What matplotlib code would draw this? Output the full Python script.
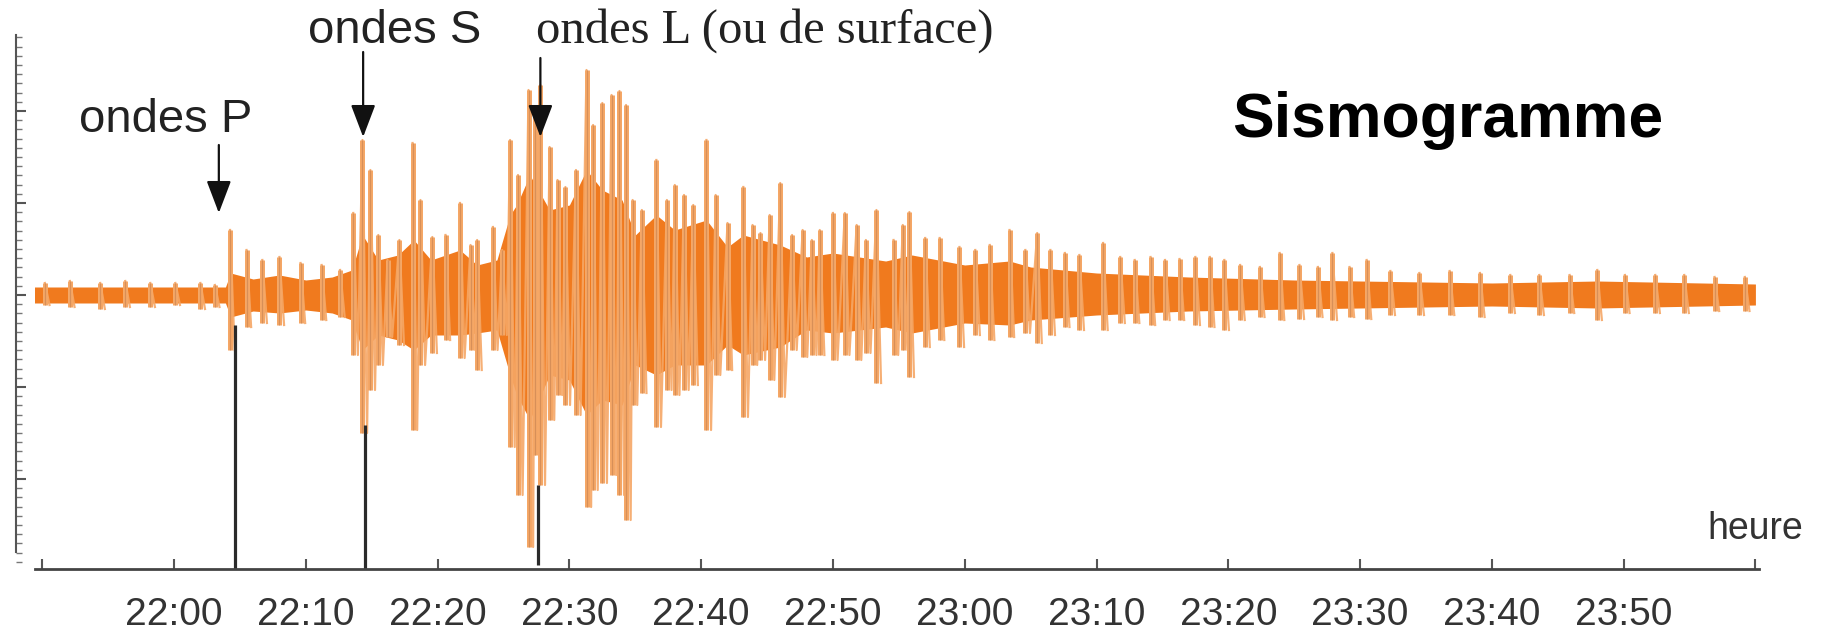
import matplotlib.pyplot as plt
from matplotlib.ticker import MultipleLocator

# temps en minutes apres 22:00
heures = ['22:00', '22:10', '22:20', '22:30', '22:40', '22:50',
          '23:00', '23:10', '23:20', '23:30', '23:40', '23:50']
minutes_heures = [0, 10, 20, 30, 40, 50, 60, 70, 80, 90, 100, 110]

# arrivees des ondes (minutes apres 22:00)
t_ondes_p = 4.6
t_ondes_s = 14.5
t_ondes_l = 27.6

# enveloppe du coeur du signal (amplitude en unites arbitraires)
coeur_t = [-10.6, 3.9, 4.3, 6.0, 8.0, 10.0, 12.0, 13.5, 14.3, 15.5, 17.0, 18.2,
           19.5, 21.7, 23.0, 24.5, 25.5, 26.0, 27.0, 28.5, 30.0, 31.3, 32.5, 34.0,
           35.0, 36.6, 38.0, 40.4, 42.0, 43.2, 46.0, 48.0, 50.0, 54.0, 56.0, 60.0,
           63.4, 65.0, 70.0, 77.0, 85.0, 100.0, 108.0, 120.0]
coeur_haut = [8, 8, 22, 16, 20, 15, 18, 25, 60, 35, 40, 55,
              35, 45, 30, 35, 80, 90, 120, 85, 90, 125, 105, 95,
              60, 80, 65, 75, 48, 60, 50, 38, 42, 34, 40, 30,
              34, 28, 22, 18, 15, 12, 14, 11]
coeur_bas = [8, 8, 22, 16, 18, 15, 18, 25, 55, 40, 45, 55,
             40, 40, 38, 35, 80, 100, 125, 80, 85, 120, 105, 110,
             70, 80, 70, 70, 50, 60, 52, 35, 38, 32, 38, 28,
             30, 25, 20, 16, 14, 11, 13, 10]

# pics du sismogramme
pic_t = [-9.8, -7.9, -5.6, -3.7, -1.8, 0.1, 2.0, 3.1,
         4.25, 5.5, 6.7, 8.0, 9.6, 11.2, 12.6,
         13.6, 14.3, 14.9, 15.5, 16.2, 17.1, 18.1, 18.7, 19.6, 20.6, 21.7, 22.5,
         23.0, 24.2, 24.9,
         25.5, 26.1, 26.9, 27.4, 27.8, 28.5, 29.1, 29.7, 30.5, 31.3, 31.8, 32.5,
         33.2, 33.8, 34.3, 34.8, 35.5, 36.6, 37.4, 38.0, 38.7, 39.4, 40.4, 41.1,
         42.0, 43.2, 43.9, 44.5, 45.2, 46.0, 46.9, 47.7, 48.4, 49.0, 50.0, 50.9,
         51.8, 52.5, 53.3, 54.6,
         55.3, 55.8, 57.0, 58.1, 59.6, 60.8, 61.9, 63.4, 64.6, 65.5, 66.5, 67.6,
         68.7, 70.5, 71.8, 72.9, 74.1, 75.2, 76.3, 77.5, 78.6, 79.7, 80.9, 82.4,
         83.9, 85.4, 86.8, 87.9, 89.2, 90.5, 92.3, 94.5, 96.8, 99.1, 101.4, 103.6,
         105.9, 108.0, 110.1, 112.4, 114.6, 116.9, 119.2]
pic_haut = [12, 14, 12, 14, 12, 12, 12, 10,
            65, 45, 35, 38, 32, 30, 25,
            82, 155, 125, 60, 35, 55, 152, 95, 58, 60, 92, 50,
            55, 68, 45,
            155, 120, 205, 185, 210, 148, 115, 108, 125, 225, 170, 192,
            200, 204, 190, 95, 85, 135, 95, 110, 100, 90, 155, 100,
            72, 108, 70, 62, 80, 112, 60, 65, 55, 65, 82, 82,
            70, 55, 85, 55,
            70, 83, 57, 57, 48, 45, 50, 65, 45, 62, 45, 42,
            40, 52, 38, 35, 38, 35, 36, 38, 38, 35, 30, 28,
            42, 30, 28, 42, 28, 35, 24, 22, 24, 22, 20, 20,
            20, 25, 20, 20, 20, 18, 18]
pic_bas = [10, 12, 14, 12, 12, 10, 14, 12,
           55, 32, 28, 30, 28, 25, 22,
           60, 138, 95, 70, 42, 50, 135, 70, 58, 45, 63, 55,
           75, 55, 40,
           152, 200, 252, 160, 190, 125, 100, 110, 120, 212, 195, 188,
           180, 200, 225, 110, 98, 132, 95, 100, 95, 90, 135, 80,
           75, 122, 70, 65, 85, 102, 55, 62, 60, 60, 65, 60,
           65, 58, 88, 60,
           55, 82, 52, 45, 52, 40, 45, 42, 38, 48, 40, 32,
           35, 35, 28, 28, 30, 25, 25, 30, 32, 35, 25, 22,
           25, 24, 22, 25, 22, 24, 20, 20, 20, 22, 18, 20,
           18, 25, 18, 18, 18, 16, 16]

orange = '#F07A1E'
orange_clair = '#F5A766'
gris = '#2a2a2a'

fig = plt.figure(figsize=(18.24, 6.4), dpi=100)
ax = fig.add_axes([35 / 1824, 71 / 640, 1727 / 1824, 534 / 640])
ax.set_xlim(-10.55, 120.5)
ax.set_ylim(-274, 260)

# sismogramme : pics, oscillation en dents de scie (seulement entre pics proches),
# coeur sature
bas_neg = [-b for b in pic_bas]
zig_x, zig_y = [], []
for i, (t, h, b) in enumerate(zip(pic_t, pic_haut, bas_neg)):
    zig_x += [t, t + 0.35]
    zig_y += [h, b]
    if i + 1 < len(pic_t) and pic_t[i + 1] - t > 0.95:
        zig_x.append(float('nan'))
        zig_y.append(float('nan'))
ax.plot(zig_x, zig_y, color=orange_clair, lw=1.6, alpha=0.9)
ax.vlines(pic_t, bas_neg, pic_haut, color=orange_clair, lw=3.6)
ax.vlines(pic_t, bas_neg, pic_haut, color='#D08A55', lw=0.9, alpha=0.8)
ax.fill_between(coeur_t, [-b for b in coeur_bas], coeur_haut, color=orange, lw=0)

# traits verticaux des arrivees
ax.vlines([t_ondes_p, t_ondes_s], -274, [-30, -130], color=gris, lw=2.3)
ax.vlines(t_ondes_l, -270, -190, color=gris, lw=2.3)

# fleches et legendes
fleche = dict(arrowstyle='-|>,head_length=1.0,head_width=0.38', color='#111111',
              lw=1.6, mutation_scale=20, shrinkA=0, shrinkB=0)
ax.annotate('', xy=(3.4, 82), xytext=(3.4, 150), arrowprops=fleche)
ax.annotate('', xy=(14.35, 158), xytext=(14.35, 243), arrowprops=fleche)
ax.annotate('', xy=(27.8, 158), xytext=(27.8, 237), arrowprops=fleche)

fig.text(166 / 1824, 1 - 120 / 640, 'ondes P', fontsize=34, family='Liberation Sans',
         color='#222222', ha='center', va='center')
fig.text(395 / 1824, 1 - 31 / 640, 'ondes S', fontsize=34, family='Liberation Sans',
         color='#222222', ha='center', va='center')
fig.text(765 / 1824, 1 - 31 / 640, 'ondes L (ou de surface)', fontsize=35,
         family='Liberation Serif', color='#222222', ha='center', va='center')
fig.text(1448 / 1824, 1 - 120 / 640, 'Sismogramme', fontsize=45, family='Liberation Sans',
         weight='bold', color='black', ha='center', va='center')
fig.text(1803 / 1824, 1 - 529 / 640, 'heure', fontsize=27, family='Liberation Sans',
         color='#333333', ha='right', va='center')

# axes
for cote in ['top', 'right']:
    ax.spines[cote].set_visible(False)
ax.spines['bottom'].set_color('#444444')
ax.spines['bottom'].set_linewidth(2)
ax.spines['bottom'].set_bounds(-10.55, 120.3)
ax.spines['left'].set_position(('outward', 14))
ax.spines['left'].set_color('#555555')
ax.spines['left'].set_linewidth(1.5)
ax.spines['left'].set_bounds(-257, 260)

ax.set_xticks([-10] + minutes_heures + [120])
ax.set_xticklabels([''] + heures + [''])
ax.tick_params(axis='x', direction='in', length=7, width=1.5, color='#555555',
               pad=20, labelsize=28, labelcolor='#333333')
for lab in ax.get_xticklabels():
    lab.set_family('Liberation Sans')

ax.yaxis.set_major_locator(MultipleLocator(92))
ax.yaxis.set_minor_locator(MultipleLocator(9.2))
ax.tick_params(axis='y', which='major', direction='in', length=7, width=1.5,
               color='#555555', labelleft=False)
ax.tick_params(axis='y', which='minor', direction='in', length=4, width=1,
               color='#777777')

fig.savefig('out.png', dpi=100)
